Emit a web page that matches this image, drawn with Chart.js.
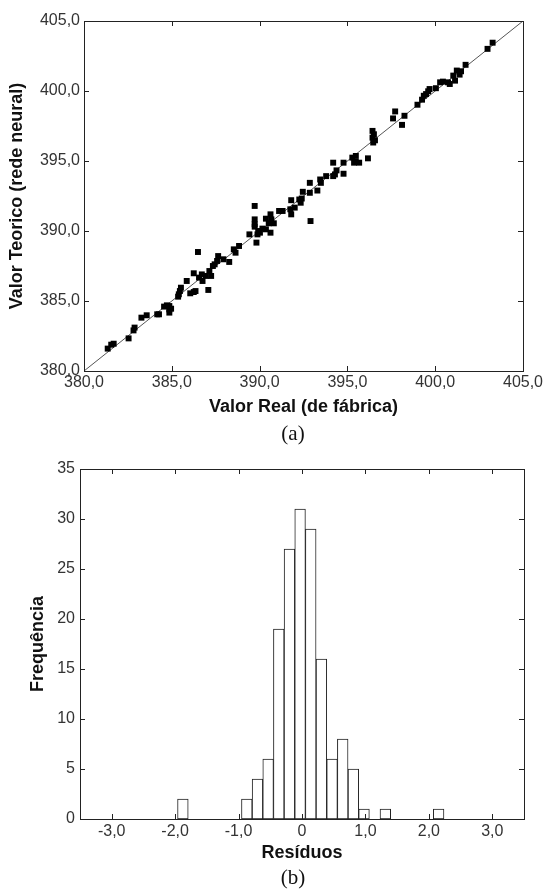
<!DOCTYPE html>
<html lang="pt">
<head>
  <meta charset="UTF-8" />
  <title>Valor Real x Valor Teorico / Resíduos</title>
  <style>
    * { box-sizing: border-box; }
    body {
      margin: 0;
      width: 547px;
      height: 895px;
      background: #fff;
      position: relative;
      overflow: hidden;
    }
    canvas { position: absolute; left: 0; }
    #scatterChart { top: 0; }
    #histChart { top: 445px; }
    .caption {
      position: absolute;
      left: 293px;
      transform: translateX(-50%);
      font-family: "Liberation Serif", "Times New Roman", serif;
      font-size: 21px;
      line-height: 24px;
      color: #111;
    }
  </style>
</head>
<body>
  <canvas id="scatterChart" width="547" height="445"></canvas>
  <canvas id="histChart" width="547" height="450"></canvas>
  <div class="caption" style="top:421px">(a)</div>
  <div class="caption" style="top:865px">(b)</div>

  <script src="https://cdn.jsdelivr.net/npm/chart.js"></script>
  <script>
    // (a) valor real (de fábrica) x valor teórico (rede neural)
    const realX = [
      403.27, 402.98, 401.73, 401.23, 401.39, 401.03, 401.47, 401.13, 400.83, 400.73,
      400.44, 400.28, 400.04, 399.68, 399.60, 399.48, 399.35, 399.25, 398.99, 398.25,
      398.11, 397.72, 397.60, 396.43, 396.51, 396.43, 396.57, 396.47, 396.17, 395.48,
      395.28, 395.48, 395.67, 395.38, 394.78, 394.78, 394.38, 394.19, 394.19, 394.29,
      393.79, 393.45, 393.49, 393.29, 392.86, 392.86, 392.46, 392.40, 392.26, 391.80,
      392.34, 392.90, 391.75, 391.80, 391.31, 391.11, 392.00, 390.62, 390.67, 390.36,
      390.52, 390.81, 390.62, 390.36, 390.16, 389.92, 390.02, 389.88, 389.72, 389.72,
      389.72, 389.72, 389.82, 389.42, 388.83, 388.63, 388.53, 388.27, 387.94, 387.64,
      387.58, 387.44, 387.34, 387.14, 387.24, 386.94, 386.71, 386.55, 386.75, 386.49,
      387.08, 386.25, 386.25, 386.05, 386.35, 385.85, 385.52, 385.46, 385.40, 385.36,
      384.86, 384.72, 384.56, 384.86, 384.96, 384.86, 384.27, 384.17, 383.57, 383.27,
      382.88, 382.82, 382.54, 381.69, 381.55, 381.35
    ];
    const teoricoY = [
      403.45, 403.01, 401.87, 401.46, 401.17, 401.10, 401.41, 400.74, 400.50, 400.62,
      400.67, 400.62, 400.20, 400.14, 399.98, 399.78, 399.66, 399.38, 399.02, 398.23,
      397.58, 398.54, 398.04, 397.15, 396.91, 396.67, 396.48, 396.32, 395.19, 395.36,
      395.24, 394.93, 394.88, 394.88, 394.88, 394.09, 394.33, 394.88, 393.92, 394.04,
      393.92, 393.68, 393.44, 392.89, 393.44, 392.73, 392.80, 392.32, 392.25, 392.20,
      392.02, 390.71, 391.55, 391.19, 391.43, 391.43, 391.67, 391.19, 390.83, 390.88,
      390.55, 390.55, 389.88, 390.12, 390.17, 390.00, 389.88, 389.76, 391.79, 390.83,
      390.48, 390.31, 389.17, 389.76, 388.93, 388.45, 388.69, 387.79, 387.98, 388.21,
      387.86, 387.62, 387.50, 387.14, 386.79, 386.79, 386.90, 386.67, 386.43, 388.50,
      385.79, 386.98, 385.64, 385.55, 385.71, 386.43, 385.95, 385.71, 385.48, 385.31,
      384.64, 384.69, 384.60, 384.40, 384.45, 384.17, 384.05, 384.05, 383.98, 383.81,
      383.10, 382.90, 382.33, 381.95, 381.88, 381.60
    ];
    const idealX = [380, 405];
    const idealY = [380, 405];
    const scatterTicks = [380, 385, 390, 395, 400, 405];
    const scatterTickLabels = ['380,0', '385,0', '390,0', '395,0', '400,0', '405,0'];

    // (b) histograma dos resíduos
    const binCenters = [-1.878, -0.87, -0.702, -0.534, -0.366, -0.198, -0.03, 0.138, 0.306, 0.474, 0.642, 0.81, 0.978, 1.314, 2.154];
    const frequencias = [2, 2, 4, 6, 19, 27, 31, 29, 16, 6, 8, 5, 1, 1, 1];
    const histXTicks = [-3, -2, -1, 0, 1, 2, 3];
    const histXTickLabels = ['-3,0', '-2,0', '-1,0', '0', '1,0', '2,0', '3,0'];
    const histYTicks = [0, 5, 10, 15, 20, 25, 30, 35];
    const histYTickLabels = ['0', '5', '10', '15', '20', '25', '30', '35'];

    Chart.defaults.font.family = '"Liberation Sans", Arial, sans-serif';
    Chart.defaults.color = '#333';

    // frame + small tick marks pointing inwards on all four sides
    const innerFrame = {
      id: 'innerFrame',
      afterDraw(chart) {
        const { ctx, chartArea: a, scales } = chart;
        const len = 5;
        ctx.save();
        ctx.strokeStyle = '#222';
        ctx.lineWidth = 1;
        ctx.beginPath();
        scales.x.ticks.forEach(t => {
          const px = Math.round(scales.x.getPixelForValue(t.value)) + 0.5;
          ctx.moveTo(px, a.top); ctx.lineTo(px, a.top + len);
          ctx.moveTo(px, a.bottom); ctx.lineTo(px, a.bottom - len);
        });
        scales.y.ticks.forEach(t => {
          const py = Math.round(scales.y.getPixelForValue(t.value)) + 0.5;
          ctx.moveTo(a.left, py); ctx.lineTo(a.left + len, py);
          ctx.moveTo(a.right, py); ctx.lineTo(a.right - len, py);
        });
        ctx.stroke();
        ctx.strokeRect(Math.round(a.left) + 0.5, Math.round(a.top) + 0.5,
          Math.round(a.right - a.left), Math.round(a.bottom - a.top));
        ctx.restore();
      }
    };

    function fixedTicks(values) {
      return scale => { scale.ticks = values.map(v => ({ value: v })); };
    }

    const titleFont = { size: 18, weight: 'bold' };
    const tickFont = { size: 16 };

    new Chart(document.getElementById('scatterChart'), {
      type: 'scatter',
      data: {
        datasets: [{
          data: realX.map((x, i) => ({ x: x, y: teoricoY[i] })),
          pointStyle: 'rect',
          pointRadius: 4.2,
          borderWidth: 0,
          backgroundColor: '#000'
        }, {
          data: idealX.map((x, i) => ({ x: x, y: idealY[i] })),
          showLine: true,
          pointRadius: 0,
          borderColor: '#555',
          borderWidth: 1
        }]
      },
      options: {
        responsive: false,
        animation: false,
        devicePixelRatio: 1,
        layout: { padding: { top: 21, right: 24, left: 0, bottom: 0 } },
        plugins: { legend: { display: false }, tooltip: { enabled: false } },
        scales: {
          x: {
            type: 'linear', min: 380, max: 405,
            grid: { display: false, drawTicks: false },
            border: { display: false },
            afterBuildTicks: fixedTicks(scatterTicks),
            afterFit: s => { s.height = 74; },
            ticks: {
              font: tickFont, padding: 2, maxRotation: 0, autoSkip: false,
              callback: (v, i) => scatterTickLabels[i]
            },
            title: {
              display: true, text: 'Valor Real (de fábrica)',
              color: '#111', font: titleFont, padding: { top: 0, bottom: 27 }
            }
          },
          y: {
            type: 'linear', min: 380, max: 405,
            grid: { display: false, drawTicks: false },
            border: { display: false },
            afterBuildTicks: fixedTicks(scatterTicks),
            afterFit: s => { s.width = 84; },
            ticks: {
              font: tickFont, padding: 4, autoSkip: false,
              callback: (v, i) => scatterTickLabels[i]
            },
            title: {
              display: true, text: 'Valor Teorico (rede neural)',
              color: '#111', font: titleFont, padding: { top: 6, bottom: 0 }
            }
          }
        }
      },
      plugins: [innerFrame]
    });

    new Chart(document.getElementById('histChart'), {
      type: 'bar',
      data: {
        datasets: [{
          data: binCenters.map((x, i) => ({ x: x, y: frequencias[i] })),
          backgroundColor: '#fff',
          borderColor: '#222',
          borderWidth: 1,
          borderSkipped: false,
          barPercentage: 1,
          categoryPercentage: 1
        }]
      },
      options: {
        responsive: false,
        animation: false,
        devicePixelRatio: 1,
        layout: { padding: { top: 24, right: 23, left: 0, bottom: 0 } },
        plugins: { legend: { display: false }, tooltip: { enabled: false } },
        scales: {
          x: {
            type: 'linear', min: -3.5, max: 3.5, offset: false,
            grid: { display: false, drawTicks: false },
            border: { display: false },
            afterBuildTicks: fixedTicks(histXTicks),
            afterFit: s => { s.height = 76; },
            ticks: {
              font: tickFont, padding: 3, maxRotation: 0, autoSkip: false,
              callback: (v, i) => histXTickLabels[i]
            },
            title: {
              display: true, text: 'Resíduos',
              color: '#111', font: titleFont, padding: { top: 0, bottom: 31 }
            }
          },
          y: {
            type: 'linear', min: 0, max: 35,
            grid: { display: false, drawTicks: false },
            border: { display: false },
            afterBuildTicks: fixedTicks(histYTicks),
            afterFit: s => { s.width = 80; },
            ticks: {
              font: tickFont, padding: 5, autoSkip: false,
              callback: (v, i) => histYTickLabels[i]
            },
            title: {
              display: true, text: 'Frequência',
              color: '#111', font: titleFont, padding: { top: 27, bottom: 0 }
            }
          }
        }
      },
      plugins: [innerFrame]
    });
  </script>
</body>
</html>
